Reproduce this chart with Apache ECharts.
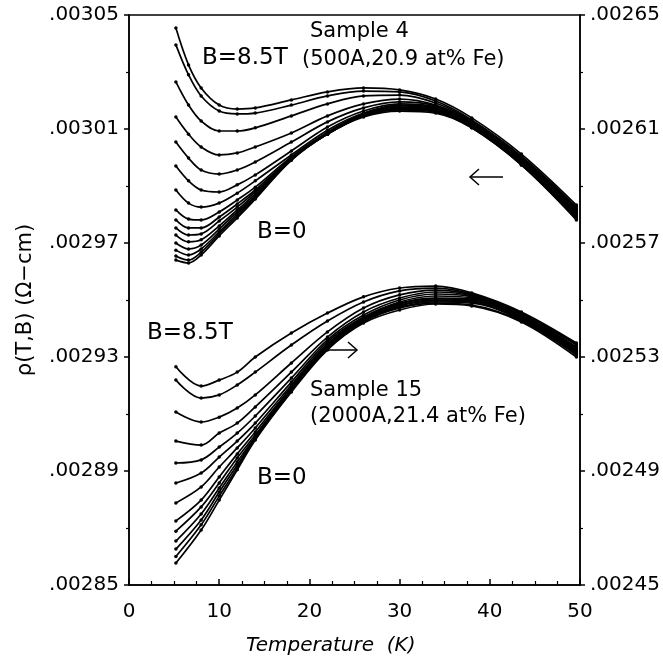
<!DOCTYPE html>
<html>
<head>
<meta charset="utf-8">
<script src="https://cdn.jsdelivr.net/npm/echarts@6/dist/echarts.min.js"></script>
<style>
html,body{margin:0;padding:0;background:#fff;}
#chart{width:663px;height:666px;}
</style>
</head>
<body>
<div id="chart"></div>
<script>
// Temperatures (K)
const tempS4  = [5.2, 6.6, 8, 10, 12, 14, 18, 22, 26, 30, 34, 38, 43.5, 49.6];
const tempS15 = [5.2, 8, 10, 12, 14, 18, 22, 26, 30, 34, 38, 43.5, 49.6];

// Sample 4 (left axis), resistivity in micro-ohm-cm, from B=8.5T (top) down to B=0
const s4_1  = [3045.4, 3032.5, 3024.4, 3018.4, 3017.0, 3017.4, 3020.2, 3023.0, 3024.4, 3023.7, 3020.5, 3013.9, 3001.2, 2983.3];
const s4_2  = [3039.5, 3029.0, 3021.6, 3016.3, 3015.3, 3015.6, 3018.4, 3021.6, 3023.3, 3023.0, 3019.8, 3013.2, 3000.5, 2982.6];
const s4_3  = [3026.5, 3018.4, 3012.8, 3009.3, 3009.3, 3010.4, 3014.6, 3018.8, 3021.6, 3021.9, 3019.1, 3012.8, 3000.2, 2982.3];
const s4_4  = [3014.2, 3008.2, 3003.7, 3000.9, 3001.6, 3003.7, 3008.6, 3014.6, 3018.8, 3020.5, 3018.4, 3012.5, 2999.8, 2981.9];
const s4_5  = [3005.4, 2999.8, 2995.6, 2994.2, 2995.6, 2998.4, 3005.4, 3012.5, 3017.4, 3019.5, 3018.1, 3012.1, 2999.5, 2981.6];
const s4_6  = [2997.0, 2991.8, 2988.6, 2987.9, 2990.4, 2993.9, 3002.3, 3010.7, 3016.3, 3018.8, 3017.7, 3011.8, 2999.1, 2981.2];
const s4_7  = [2988.6, 2984.0, 2982.6, 2984.0, 2987.5, 2991.8, 3000.9, 3009.6, 3015.6, 3018.4, 3017.4, 3011.4, 2998.8, 2980.9];
const s4_8  = [2981.6, 2978.4, 2978.1, 2980.9, 2985.1, 2989.6, 3000.2, 3008.9, 3015.3, 3018.1, 3017.0, 3011.4, 2998.4, 2980.5];
const s4_9  = [2978.1, 2975.3, 2975.3, 2979.1, 2983.7, 2988.6, 2999.8, 3008.6, 3014.9, 3017.7, 3016.7, 3011.1, 2998.4, 2980.2];
const s4_10 = [2975.3, 2972.8, 2973.2, 2977.7, 2982.6, 2987.9, 2999.5, 3008.6, 3014.9, 3017.4, 3016.3, 3011.1, 2998.1, 2979.8];
const s4_11 = [2972.8, 2970.4, 2971.1, 2976.0, 2981.6, 2987.2, 2999.5, 3008.2, 3014.6, 3017.4, 3016.3, 3010.7, 2998.1, 2979.5];
const s4_12 = [2970.0, 2967.9, 2969.3, 2974.9, 2980.9, 2986.5, 2999.5, 3008.2, 3014.6, 3017.0, 3016.0, 3010.7, 2997.7, 2979.1];
const s4_13 = [2967.5, 2965.8, 2967.9, 2973.9, 2980.2, 2986.1, 2999.1, 3008.2, 3014.6, 3017.0, 3016.0, 3010.7, 2997.7, 2978.8];
const s4_14 = [2965.4, 2964.0, 2966.8, 2973.2, 2979.5, 2985.8, 2999.1, 3008.6, 3014.6, 3016.7, 3016.0, 3010.4, 2997.4, 2978.4];
const s4_15 = [2964.0, 2963.0, 2965.8, 2972.5, 2978.8, 2985.4, 2999.1, 3008.2, 3014.2, 3016.3, 3015.6, 3010.4, 2997.4, 2978.1];

// Sample 15 (right axis), micro-ohm-cm, from B=8.5T (top) down to B=0
const s15_1  = [2526.6, 2519.8, 2521.9, 2524.7, 2530.0, 2538.4, 2545.4, 2551.1, 2554.2, 2554.9, 2552.5, 2545.8, 2534.9];
const s15_2  = [2521.9, 2515.6, 2516.7, 2520.2, 2524.7, 2534.2, 2542.6, 2549.3, 2553.2, 2554.2, 2552.1, 2545.4, 2534.6];
const s15_3  = [2510.7, 2507.2, 2508.9, 2512.1, 2516.7, 2527.9, 2538.8, 2547.2, 2551.8, 2553.5, 2551.8, 2545.1, 2534.2];
const s15_4  = [2500.5, 2499.1, 2503.3, 2506.8, 2512.5, 2524.7, 2537.0, 2545.8, 2550.7, 2552.8, 2551.4, 2544.7, 2533.5];
const s15_5  = [2492.8, 2493.9, 2498.4, 2503.3, 2509.3, 2522.6, 2536.0, 2544.7, 2550.0, 2552.1, 2551.1, 2544.4, 2533.2];
const s15_6  = [2485.8, 2489.3, 2494.9, 2500.5, 2506.8, 2521.2, 2535.3, 2544.0, 2549.3, 2551.4, 2550.7, 2544.0, 2532.8];
const s15_7  = [2478.8, 2484.4, 2491.4, 2498.1, 2505.1, 2520.2, 2534.6, 2543.7, 2548.9, 2550.7, 2550.4, 2543.7, 2532.5];
const s15_8  = [2472.5, 2479.8, 2487.9, 2496.0, 2503.7, 2519.5, 2534.2, 2543.3, 2548.6, 2550.4, 2550.0, 2543.7, 2532.1];
const s15_9  = [2468.9, 2477.4, 2485.8, 2494.6, 2502.6, 2519.1, 2533.9, 2543.0, 2548.2, 2550.0, 2549.7, 2543.3, 2531.8];
const s15_10 = [2465.4, 2474.9, 2484.0, 2493.2, 2501.9, 2518.8, 2533.5, 2542.6, 2547.9, 2549.7, 2549.3, 2543.0, 2531.4];
const s15_11 = [2462.6, 2472.8, 2482.6, 2492.1, 2501.6, 2518.4, 2533.2, 2542.6, 2547.5, 2549.3, 2548.9, 2543.0, 2531.1];
const s15_12 = [2460.0, 2471.1, 2481.2, 2491.1, 2501.2, 2518.1, 2532.8, 2542.3, 2547.2, 2548.9, 2548.2, 2542.6, 2530.7];
const s15_13 = [2457.7, 2469.3, 2479.8, 2490.4, 2500.9, 2517.7, 2532.5, 2541.9, 2546.5, 2548.6, 2547.9, 2542.3, 2530.0];

// Tick values / labels
const xTicks = [0, 10, 20, 30, 40, 50];
const leftTickVals = [2850, 2890, 2930, 2970, 3010, 3050];
const leftTickLabels = ['.00285', '.00289', '.00293', '.00297', '.00301', '.00305'];
const leftMinorVals = [2870, 2910, 2950, 2990, 3030];
const rightTickVals = [2450, 2490, 2530, 2570, 2610, 2650];
const rightTickLabels = ['.00245', '.00249', '.00253', '.00257', '.00261', '.00265'];
const rightMinorVals = [2470, 2510, 2550, 2590, 2630];

const sample4 = [s4_1, s4_2, s4_3, s4_4, s4_5, s4_6, s4_7, s4_8, s4_9, s4_10, s4_11, s4_12, s4_13, s4_14, s4_15];
const sample15 = [s15_1, s15_2, s15_3, s15_4, s15_5, s15_6, s15_7, s15_8, s15_9, s15_10, s15_11, s15_12, s15_13];

const FONT = 'DejaVu Sans';
const series = [];
function addCurve(temps, vals, axisIdx) {
  series.push({
    type: 'line', yAxisIndex: axisIdx, smooth: 0.35,
    data: temps.map((t, i) => [t, vals[i]]),
    symbol: 'circle', symbolSize: 3.5,
    itemStyle: {color: '#000'},
    lineStyle: {color: '#000', width: 1.7},
    silent: true, z: 3
  });
}
sample4.forEach(c => addCurve(tempS4, c, 0));
sample15.forEach(c => addCurve(tempS15, c, 1));

function yAxisCommon(min, max, pos, tickVals, labels) {
  return {
    type: 'value', min: min, max: max, position: pos, gridIndex: 0,
    axisLine: {show: true, onZero: false, lineStyle: {color: '#000', width: 1.5}},
    axisTick: {show: true, inside: false, length: 5, customValues: tickVals, lineStyle: {color: '#000', width: 1.5}},
    axisLabel: {show: true, customValues: tickVals, color: '#000', fontFamily: FONT, fontSize: 20, margin: 10,
      formatter: v => { const i = tickVals.indexOf(Math.round(v)); return i >= 0 ? labels[i] : ''; }},
    splitLine: {show: false}
  };
}
function minorAxis(min, max, pos, vals) {
  return {
    type: 'value', min: min, max: max, position: pos, gridIndex: 0,
    axisLine: {show: false},
    axisTick: {show: true, inside: false, length: 3, customValues: vals, lineStyle: {color: '#000', width: 1.2}},
    axisLabel: {show: false},
    splitLine: {show: false}
  };
}

const leftAxis = yAxisCommon(2850, 3050, 'left', leftTickVals, leftTickLabels);
leftAxis.name = '\u03C1(T,B) (\u03A9\u2212cm)';
leftAxis.nameLocation = 'middle';
leftAxis.nameGap = 93;
leftAxis.nameRotate = 90;
leftAxis.nameTextStyle = {color: '#000', fontFamily: FONT, fontSize: 21};

const rightAxis = yAxisCommon(2450, 2650, 'right', rightTickVals, rightTickLabels);

function txt(x, y, s, size, extra) {
  return Object.assign({type: 'text', left: x, top: y, silent: true,
    style: {text: s, fill: '#000', font: size + 'px "' + FONT + '"'}}, extra || {});
}

const option = {
  animation: false,
  backgroundColor: '#fff',
  grid: {left: 129, right: 83, top: 15, bottom: 81, show: true, borderColor: '#000', borderWidth: 1.5, backgroundColor: 'transparent'},
  xAxis: {
    type: 'value', min: xTicks[0], max: xTicks[xTicks.length - 1], interval: 10,
    axisLine: {show: true, onZero: false, lineStyle: {color: '#000', width: 1.5}},
    axisTick: {show: true, inside: true, length: 6, lineStyle: {color: '#000', width: 1.5}},
    minorTick: {show: true, splitNumber: 4, length: 4, lineStyle: {color: '#000', width: 1.2}},
    axisLabel: {color: '#000', fontFamily: FONT, fontSize: 20, margin: 17},
    splitLine: {show: false}, minorSplitLine: {show: false}
  },
  yAxis: [leftAxis, rightAxis, minorAxis(2850, 3050, 'left', leftMinorVals), minorAxis(2450, 2650, 'right', rightMinorVals)],
  series: series,
  graphic: [
    txt(310, 21, 'Sample 4', 21),
    txt(302, 49, '(500A,20.9 at% Fe)', 21),
    txt(202, 47, 'B=8.5T', 23),
    txt(257, 221, 'B=0', 23),
    txt(147, 322, 'B=8.5T', 23),
    txt(257, 467, 'B=0', 23),
    txt(310, 380, 'Sample 15', 21),
    txt(310, 406, '(2000A,21.4 at% Fe)', 21),
    {type: 'text', silent: true, left: 246, top: 636,
      style: {text: 'Temperature  (K)', fill: '#000', font: 'italic 20px "' + FONT + '"'}},
    // arrow pointing left (Sample 4 -> left axis)
    {type: 'line', silent: true, shape: {x1: 470, y1: 177, x2: 503, y2: 177}, style: {stroke: '#000', lineWidth: 1.5}},
    {type: 'polyline', silent: true, shape: {points: [[479, 169], [470, 177], [479, 185]]}, style: {stroke: '#000', lineWidth: 1.5, fill: null}},
    // arrow pointing right (Sample 15 -> right axis)
    {type: 'line', silent: true, shape: {x1: 322, y1: 350, x2: 357, y2: 350}, style: {stroke: '#000', lineWidth: 1.5}},
    {type: 'polyline', silent: true, shape: {points: [[348, 342], [357, 350], [348, 358]]}, style: {stroke: '#000', lineWidth: 1.5, fill: null}}
  ]
};

const chart = echarts.init(document.getElementById('chart'), null, {renderer: 'canvas'});
chart.setOption(option);
</script>
</body>
</html>
